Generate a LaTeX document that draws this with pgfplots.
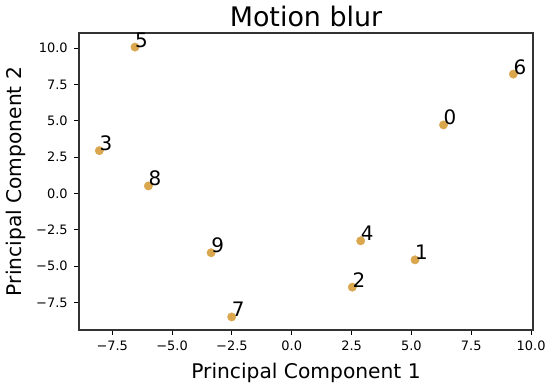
\documentclass[border=0pt]{standalone}
\usepackage{fontspec}
\setmainfont{DejaVu Sans}
\usepackage{pgfplots}
\pgfplotsset{compat=1.18}
\definecolor{dotc}{RGB}{218,166,78}

\begin{document}
\begin{tikzpicture}
\begin{axis}[
    name=ax,
    scale only axis, width=454bp, height=297bp,
    xmin=-8.89, xmax=10.08, ymin=-9.4, ymax=11.05,
    xtick={-7.5,-5,-2.5,0,2.5,5,7.5,10},
    xticklabels={−7.5,−5.0,−2.5,0.0,2.5,5.0,7.5,10.0},
    ytick={-7.5,-5,-2.5,0,2.5,5,7.5,10},
    yticklabels={−7.5,−5.0,−2.5,0.0,2.5,5.0,7.5,10.0},
    tick align=outside, tick pos=left, major tick length=4.8bp,
    tick style={line width=1.1bp, black},
    axis line style={line width=1.1bp, black!80},
    tick label style={font=\fontsize{13}{15}\selectfont},
    yticklabel style={xshift=-3bp},
    xticklabel style={yshift=-3bp},
    xlabel={Principal Component 1}, ylabel={Principal Component 2},
    label style={font=\fontsize{20.3}{24}\selectfont},
    xlabel style={yshift=-5bp},
    ylabel style={yshift=4bp},
    title={Motion blur}, title style={font=\fontsize{27}{32}\selectfont, yshift=-3bp},
    nodes near coords, point meta=explicit symbolic,
    nodes near coords style={anchor=base west, inner sep=0pt, black,
        font=\fontsize{20}{24}\selectfont},
]
\addplot[only marks, mark=*, mark size=4.2bp, color=dotc] table[meta=lbl] {
x      y      lbl
6.34   4.72   0
5.15   -4.57  1
2.53   -6.45  2
-8.04  2.95   3
2.88   -3.26  4
-6.55  10.08  5
9.26   8.22   6
-2.51  -8.50  7
-5.99  0.52   8
-3.37  -4.08  9
};
\end{axis}
\pgfresetboundingbox
\path ([xshift=-79bp,yshift=-56bp]ax.south west) rectangle ([xshift=17bp,yshift=33bp]ax.north east);
\end{tikzpicture}
\end{document}
